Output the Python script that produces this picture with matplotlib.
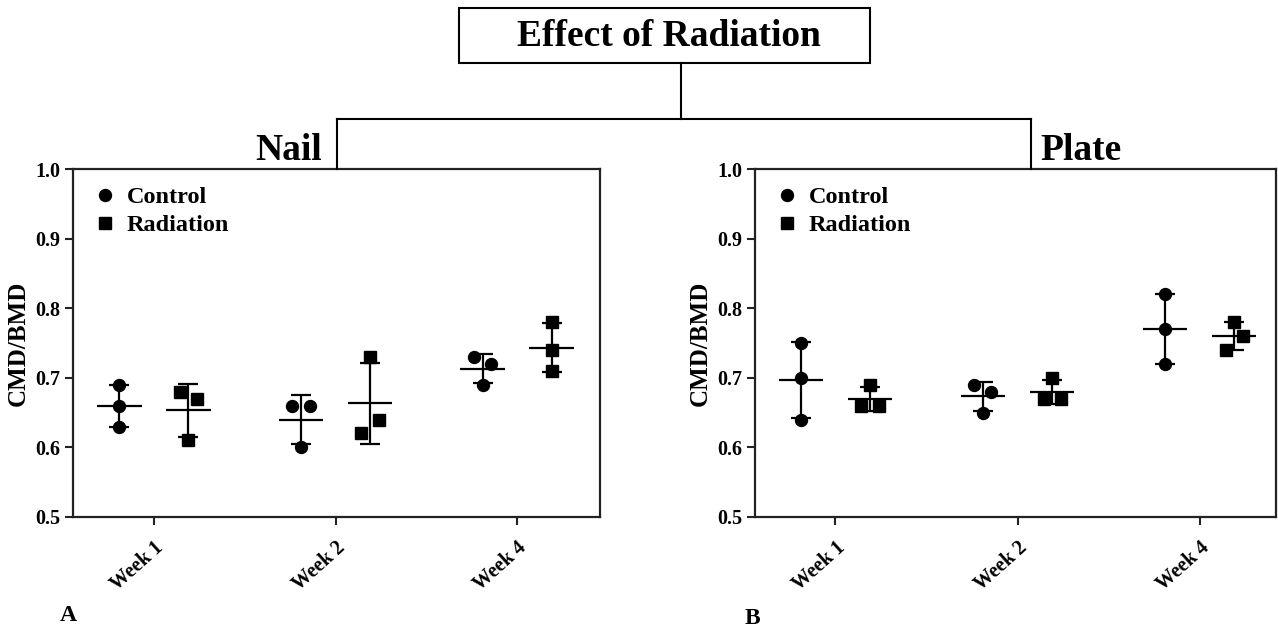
import matplotlib
matplotlib.use("Agg")
import matplotlib.pyplot as plt
import numpy as np
from matplotlib.lines import Line2D
from matplotlib.patches import Rectangle

plt.rcParams['font.family'] = ['Liberation Serif', 'DejaVu Serif']
plt.rcParams['font.weight'] = 'bold'

weeks = ["Week 1", "Week 2", "Week 4"]
groups = ["Control", "Radiation"]

# three animals per week, CMD/BMD ratio
nail_control = [[0.69, 0.66, 0.63], [0.66, 0.66, 0.60], [0.73, 0.72, 0.69]]
nail_radiation = [[0.68, 0.67, 0.61], [0.73, 0.62, 0.64], [0.78, 0.74, 0.71]]
plate_control = [[0.75, 0.70, 0.64], [0.69, 0.68, 0.65], [0.82, 0.77, 0.72]]
plate_radiation = [[0.69, 0.66, 0.66], [0.70, 0.67, 0.67], [0.78, 0.76, 0.74]]

# side-by-side spreading of overlapping points (-1 left, 0 centre, 1 right)
nail_control_jit = [[0, 0, 0], [-1, 1, 0], [-1, 1, 0]]
nail_radiation_jit = [[-1, 1, 0], [0, -1, 1], [0, 0, 0]]
plate_control_jit = [[0, 0, 0], [-1, 1, 0], [0, 0, 0]]
plate_radiation_jit = [[0, -1, 1], [0, -1, 1], [0, 1, -1]]

W, H = 1278, 627
fig = plt.figure(figsize=(W / 100, H / 100), dpi=100)


def fx(px):
    return px / W


def fy(py):
    return 1 - py / H


def draw_panel(ax, control, radiation, cjit, rjit):
    pos = np.arange(len(weeks))
    for vals, jit, off, mk in [(control, cjit, -0.19, 'o'), (radiation, rjit, 0.19, 's')]:
        for i, (v, j) in enumerate(zip(vals, jit)):
            v = np.array(v)
            x = pos[i] + off
            ax.plot(x + np.array(j) * 0.047, v, mk, color='black', ms=8.6 if mk == 'o' else 8.2, zorder=3)
            m, sd = v.mean(), v.std(ddof=1)
            ax.errorbar(x, m, yerr=sd, fmt='none', ecolor='black', elinewidth=1.6,
                        capsize=7.5, capthick=1.6, zorder=4)
            ax.hlines(m, x - 0.122, x + 0.122, color='black', lw=1.6, zorder=4)

    ax.set_xlim(-0.446, 2.457)
    ax.set_ylim(0.5, 1.0)
    ax.set_yticks(np.arange(0.5, 1.01, 0.1))
    ax.set_yticklabels([f"{t:.1f}" for t in np.arange(0.5, 1.01, 0.1)], fontsize=14.5, fontweight='bold')
    ax.set_xticks(pos)
    ax.set_xticklabels(weeks, rotation=42, ha='right', rotation_mode='anchor',
                       fontsize=14.5, fontweight='bold')
    ax.tick_params(axis='both', direction='out', length=6, width=1.5, color='#222222', pad=3)
    ax.tick_params(axis='x', pad=9)
    for s in ax.spines.values():
        s.set_linewidth(1.6)
        s.set_color('#222222')
    ax.set_ylabel("CMD/BMD", fontsize=18, fontweight='bold', labelpad=4)

    handles = [Line2D([], [], marker='o', ls='none', color='black', ms=8.6),
               Line2D([], [], marker='s', ls='none', color='black', ms=8.2)]
    ax.legend(handles, groups, loc='upper left', frameon=False,
              prop={'weight': 'bold', 'size': 17.5}, handlelength=0.8, handletextpad=0.5,
              labelspacing=0.25, borderaxespad=0.3, bbox_to_anchor=(0.01, 1.0))


ax1 = fig.add_axes([fx(73), fy(517), fx(600) - fx(73), fy(169) - fy(517)])
ax2 = fig.add_axes([fx(755), fy(517), fx(1276) - fx(755), fy(169) - fy(517)])
draw_panel(ax1, nail_control, nail_radiation, nail_control_jit, nail_radiation_jit)
draw_panel(ax2, plate_control, plate_radiation, plate_control_jit, plate_radiation_jit)
ax2.set_xlim(-0.442, 2.42)

# tree header
fig.add_artist(Rectangle((fx(459), fy(63)), fx(870) - fx(459), fy(8) - fy(63),
                         transform=fig.transFigure, fill=False, ec='black', lw=1.5))
fig.text(fx(669), fy(37), "Effect of Radiation", ha='center', va='center', fontsize=27, fontweight='bold')
for xs, ys in [([681, 681], [63, 119]), ([337, 1031], [119, 119]),
               ([337, 337], [119, 169]), ([1031, 1031], [119, 169])]:
    fig.add_artist(Line2D([fx(x) for x in xs], [fy(y) for y in ys], transform=fig.transFigure,
                          color='black', lw=1.5))
fig.text(fx(322), fy(160), "Nail", ha='right', va='baseline', fontsize=27, fontweight='bold')
fig.text(fx(1040), fy(160), "Plate", ha='left', va='baseline', fontsize=27, fontweight='bold')

fig.text(fx(60), fy(621), "A", ha='left', va='baseline', fontsize=17, fontweight='bold')
fig.text(fx(745), fy(624), "B", ha='left', va='baseline', fontsize=17, fontweight='bold')

fig.savefig("out.png", dpi=100)
